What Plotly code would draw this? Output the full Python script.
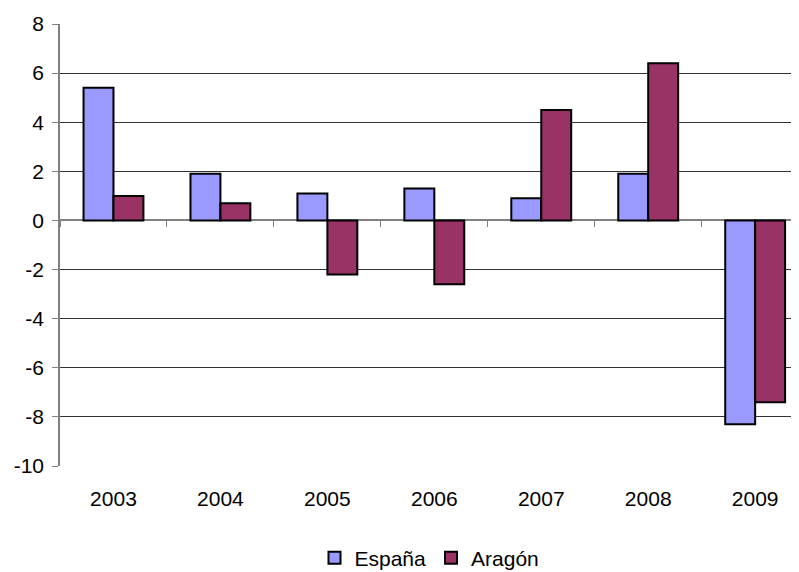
import plotly.graph_objects as go

years = ["2003", "2004", "2005", "2006", "2007", "2008", "2009"]
espana = [5.4, 1.9, 1.1, 1.3, 0.9, 1.9, -8.3]
aragon = [1.0, 0.7, -2.2, -2.6, 4.5, 6.4, -7.4]
y_ticks = [8, 6, 4, 2, 0, -2, -4, -6, -8, -10]

fig = go.Figure()
fig.add_trace(go.Bar(x=years, y=espana, name="España",
                     marker=dict(color="#9999FF", line=dict(color="black", width=2))))
fig.add_trace(go.Bar(x=years, y=aragon, name="Aragón",
                     marker=dict(color="#993366", line=dict(color="black", width=2))))
# helper trace so the category axis at zero gets its boundary ticks
fig.add_trace(go.Scatter(x=years, y=[None] * len(years), xaxis="x2",
                         showlegend=False, hoverinfo="skip"))

# page body has an 8px margin, so the figure is sized to fit inside it
fig.update_layout(
    width=791, height=564,
    margin=dict(l=52, r=0, t=16, b=106),
    paper_bgcolor="white", plot_bgcolor="white",
    barmode="group", bargap=0.44, bargroupgap=0,
    font=dict(family="Liberation Sans, Arial, sans-serif", size=21, color="black"),
    showlegend=True,
    legend=dict(orientation="h", x=0.5, xanchor="center",
                yref="container", y=14 / 564, yanchor="middle",
                font=dict(size=21), traceorder="normal", itemwidth=30),
    xaxis=dict(
        type="category", range=[-0.5, 6.41], automargin=False,
        ticks="", showline=False, showgrid=False, ticklabelstandoff=18,
    ),
    xaxis2=dict(
        type="category", range=[-0.5, 6.41], overlaying="x", anchor="free",
        position=10 / 18, side="bottom", tickson="boundaries",
        ticks="outside", ticklen=6, tickcolor="#808080", tickwidth=1,
        showticklabels=False, showline=False, showgrid=False,
    ),
    yaxis=dict(
        range=[-10, 8], tickvals=y_ticks, ticktext=[str(v) for v in y_ticks],
        automargin=False, ticks="outside", ticklen=6, tickcolor="#808080",
        ticklabelstandoff=4,
        showline=True, linecolor="#808080", linewidth=1.5,
        showgrid=True, gridcolor="#333333", gridwidth=1,
        zeroline=True, zerolinecolor="#808080", zerolinewidth=1.5,
    ),
)

fig.write_html("out.html")
